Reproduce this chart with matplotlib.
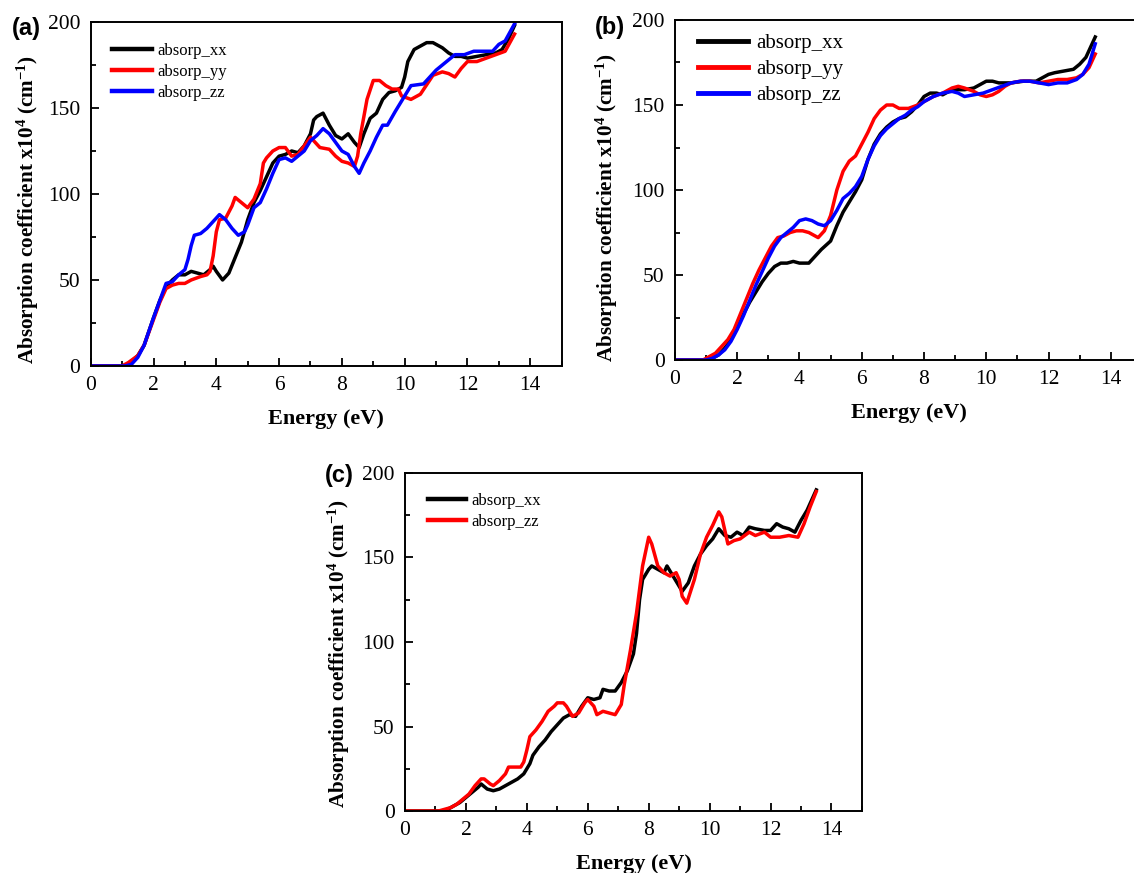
import matplotlib
matplotlib.use('Agg')
import matplotlib.pyplot as plt
from matplotlib.ticker import MultipleLocator

# ---- panel (a) ----
a_xx_e = [0, 1.0, 1.2, 1.5, 1.7, 2.0, 2.2, 2.4, 2.6, 2.8, 3.0, 3.2, 3.4, 3.6, 3.8, 3.9, 4.0, 4.2,
          4.4, 4.6, 4.8, 5.0, 5.2, 5.4, 5.6, 5.8, 6.0, 6.2, 6.4, 6.6, 6.8, 7.0, 7.1, 7.2, 7.4, 7.6,
          7.8, 8.0, 8.2, 8.4, 8.55, 8.7, 8.9, 9.1, 9.3, 9.5, 9.7, 9.9, 10.0, 10.1, 10.3, 10.5, 10.7,
          10.9, 11.2, 11.4, 11.6, 11.8, 12.0, 12.3, 12.6, 12.9, 13.1, 13.3, 13.5]
a_xx_v = [0, 0, 1, 6, 12, 28, 38, 46, 50, 53, 53, 55, 54, 53, 56, 58, 55, 50,
          54, 63, 72, 85, 95, 102, 110, 118, 122, 123, 125, 124, 128, 135, 143, 145, 147, 140,
          134, 132, 135, 130, 127, 135, 144, 147, 155, 159, 160, 162, 168, 177, 184, 186, 188,
          188, 185, 182, 180, 180, 179, 180, 181, 182, 184, 190, 198]

a_yy_e = [0, 1.0, 1.2, 1.5, 1.7, 2.0, 2.2, 2.4, 2.6, 2.8, 3.0, 3.2, 3.5, 3.7, 3.8, 3.9, 4.0, 4.1,
          4.3, 4.5, 4.6, 4.8, 5.0, 5.2, 5.4, 5.5, 5.6, 5.8, 6.0, 6.2, 6.4, 6.6, 6.8, 7.0, 7.1, 7.3,
          7.6, 7.8, 8.0, 8.2, 8.4, 8.5, 8.6, 8.8, 9.0, 9.2, 9.4, 9.6, 9.8, 9.9, 10.2, 10.5, 10.9,
          11.2, 11.4, 11.6, 11.8, 12.0, 12.3, 12.6, 12.9, 13.2, 13.5]
a_yy_v = [0, 0, 2, 6, 12, 27, 37, 45, 47, 48, 48, 50, 52, 53, 55, 64, 78, 85,
          86, 93, 98, 95, 92, 97, 106, 118, 121, 125, 127, 127, 122, 123, 128, 133, 131, 127,
          126, 122, 119, 118, 116, 122, 135, 155, 166, 166, 163, 161, 161, 157, 155, 158, 169,
          171, 170, 168, 173, 177, 177, 179, 181, 183, 193]

a_zz_e = [0, 1.1, 1.3, 1.5, 1.7, 2.0, 2.2, 2.4, 2.6, 2.8, 3.0, 3.1, 3.2, 3.3, 3.5, 3.7, 3.9, 4.1,
          4.3, 4.5, 4.7, 4.9, 5.0, 5.2, 5.4, 5.6, 5.8, 6.0, 6.2, 6.4, 6.6, 6.8, 7.0, 7.2, 7.4, 7.6,
          7.8, 8.0, 8.2, 8.4, 8.55, 8.7, 8.9, 9.1, 9.3, 9.45, 9.7, 9.9, 10.2, 10.6, 10.8, 11.0,
          11.2, 11.6, 11.9, 12.2, 12.5, 12.8, 13.0, 13.2, 13.5]
a_zz_v = [0, 0, 1, 5, 12, 28, 38, 48, 49, 53, 56, 62, 70, 76, 77, 80, 84, 88,
          85, 80, 76, 78, 82, 92, 95, 103, 112, 120, 121, 119, 122, 125, 131, 134, 138, 135,
          130, 125, 123, 116, 112, 118, 125, 133, 140, 140, 148, 154, 163, 164, 168, 172,
          175, 181, 181, 183, 183, 183, 187, 189, 199]

# ---- panel (b) ----
b_xx_e = [0, 1.0, 1.2, 1.4, 1.6, 1.8, 2.0, 2.2, 2.4, 2.6, 2.8, 3.0, 3.2, 3.4, 3.6, 3.8, 4.0, 4.3,
          4.5, 4.7, 5.0, 5.2, 5.4, 5.6, 5.8, 6.0, 6.2, 6.4, 6.6, 6.8, 7.0, 7.2, 7.4, 7.6, 7.8, 8.0,
          8.2, 8.4, 8.6, 8.8, 9.0, 9.3, 9.6, 9.8, 10.0, 10.2, 10.4, 10.8, 11.2, 11.6, 11.8, 12.0,
          12.2, 12.5, 12.8, 13.0, 13.2, 13.4, 13.5]
b_xx_v = [0, 0, 1, 3, 7, 12, 20, 27, 34, 40, 46, 51, 55, 57, 57, 58, 57, 57,
          61, 65, 70, 79, 87, 93, 99, 106, 118, 127, 133, 137, 140, 142, 143, 146, 150, 155,
          157, 157, 156, 158, 159, 159, 160, 162, 164, 164, 163, 163, 164, 164, 166, 168,
          169, 170, 171, 174, 178, 186, 190]

b_yy_e = [0, 0.9, 1.1, 1.3, 1.5, 1.7, 1.9, 2.1, 2.3, 2.5, 2.7, 2.9, 3.1, 3.3, 3.5, 3.7, 3.9, 4.1,
          4.3, 4.6, 4.8, 5.0, 5.2, 5.4, 5.6, 5.8, 6.0, 6.2, 6.4, 6.6, 6.8, 7.0, 7.2, 7.5, 7.8, 8.0,
          8.3, 8.6, 8.9, 9.1, 9.3, 9.6, 9.8, 10.0, 10.2, 10.4, 10.6, 10.8, 11.1, 11.4, 11.7, 12.0,
          12.3, 12.6, 12.9, 13.1, 13.3, 13.5]
b_yy_v = [0, 0, 2, 4, 8, 12, 18, 27, 36, 45, 53, 60, 67, 72, 73, 75, 76, 76,
          75, 72, 76, 85, 100, 111, 117, 120, 127, 134, 142, 147, 150, 150, 148, 148, 150, 152,
          155, 157, 160, 161, 160, 158, 156, 155, 156, 158, 161, 163, 164, 164, 163, 164,
          165, 165, 166, 168, 172, 180]

b_zz_e = [0, 1.0, 1.2, 1.4, 1.6, 1.8, 2.0, 2.2, 2.4, 2.6, 2.8, 3.0, 3.2, 3.4, 3.6, 3.8, 4.0, 4.2,
          4.4, 4.6, 4.8, 5.0, 5.2, 5.4, 5.6, 5.8, 6.0, 6.2, 6.4, 6.6, 6.8, 7.0, 7.2, 7.4, 7.6, 7.8,
          8.0, 8.3, 8.6, 8.9, 9.1, 9.3, 9.6, 9.9, 10.2, 10.5, 10.8, 11.1, 11.4, 11.7, 12.0, 12.3,
          12.6, 12.9, 13.1, 13.3, 13.5]
b_zz_v = [0, 0, 1, 3, 6, 11, 18, 26, 35, 44, 52, 60, 67, 72, 75, 78, 82, 83,
          82, 80, 79, 82, 88, 95, 98, 102, 108, 118, 126, 132, 136, 139, 142, 144, 147, 149,
          152, 155, 157, 158, 157, 155, 156, 157, 159, 161, 163, 164, 164, 163, 162, 163,
          163, 165, 168, 174, 186]

# ---- panel (c) ----
c_xx_e = [0, 1.2, 1.4, 1.6, 1.8, 2.0, 2.2, 2.4, 2.5, 2.7, 2.9, 3.1, 3.3, 3.5, 3.7, 3.9, 4.1, 4.2,
          4.4, 4.6, 4.8, 5.0, 5.2, 5.4, 5.6, 5.8, 6.0, 6.2, 6.4, 6.5, 6.7, 6.9, 7.1, 7.3, 7.5, 7.6,
          7.7, 7.8, 8.0, 8.1, 8.3, 8.5, 8.6, 8.8, 9.0, 9.1, 9.3, 9.5, 9.7, 9.9, 10.1, 10.3, 10.5,
          10.7, 10.9, 11.1, 11.3, 11.5, 11.8, 12.0, 12.2, 12.4, 12.6, 12.8, 13.0, 13.2, 13.5]
c_xx_v = [0, 0, 1, 3, 5, 8, 11, 14, 16, 13, 12, 13, 15, 17, 19, 22, 28, 33,
          38, 42, 47, 51, 55, 57, 56, 62, 67, 66, 67, 72, 71, 71, 76, 83, 93, 105,
          125, 137, 143, 145, 143, 141, 145, 139, 133, 130, 135, 145, 152, 157, 161, 167, 163,
          162, 165, 163, 168, 167, 166, 166, 170, 168, 167, 165, 172, 178, 190]

c_zz_e = [0, 1.1, 1.3, 1.5, 1.7, 1.9, 2.1, 2.3, 2.5, 2.6, 2.8, 2.9, 3.1, 3.3, 3.4, 3.6, 3.8, 3.9,
          4.0, 4.1, 4.3, 4.5, 4.7, 4.9, 5.0, 5.2, 5.3, 5.5, 5.7, 5.9, 6.0, 6.2, 6.3, 6.5, 6.7, 6.9,
          7.1, 7.2, 7.4, 7.6, 7.8, 8.0, 8.1, 8.3, 8.5, 8.7, 8.9, 9.0, 9.1, 9.25, 9.5, 9.7, 9.9,
          10.1, 10.3, 10.4, 10.6, 10.8, 11.0, 11.3, 11.5, 11.8, 12.0, 12.3, 12.6, 12.9, 13.1, 13.3,
          13.5]
c_zz_v = [0, 0, 1, 2, 4, 7, 10, 15, 19, 19, 16, 15, 18, 22, 26, 26, 26, 29,
          36, 44, 48, 53, 59, 62, 64, 64, 62, 56, 58, 64, 66, 62, 57, 59, 58, 57,
          63, 75, 95, 117, 145, 162, 158, 145, 141, 139, 141, 137, 127, 123, 137, 152, 162,
          169, 177, 174, 158, 160, 161, 165, 163, 165, 162, 162, 163, 162, 170, 180,
          189]

plt.rcParams['font.family'] = ['Liberation Serif', 'DejaVu Serif']
plt.rcParams['mathtext.fontset'] = 'custom'
plt.rcParams['mathtext.rm'] = 'Liberation Serif:bold'
plt.rcParams['mathtext.bf'] = 'Liberation Serif:bold'
plt.rcParams['mathtext.default'] = 'bf'

YLABEL = r'Absorption coefficient x10$^4$ (cm$^{-1}$)'


def style_axes(ax, ylab_x, ylab_y):
    ax.set_xlim(0, 15)
    ax.set_ylim(0, 200)
    ax.xaxis.set_major_locator(MultipleLocator(2))
    ax.xaxis.set_minor_locator(MultipleLocator(1))
    ax.yaxis.set_major_locator(MultipleLocator(50))
    ax.yaxis.set_minor_locator(MultipleLocator(25))
    ax.tick_params(which='both', direction='in', top=False, right=False,
                   labelsize=15.5, width=1.3, pad=7.5)
    ax.tick_params(which='major', length=6)
    ax.tick_params(which='minor', length=3.5)
    for s in ax.spines.values():
        s.set_linewidth(1.4)
    ax.set_xlabel('Energy (eV)', fontsize=16, fontweight='bold', labelpad=9.5)
    ax.set_ylabel(YLABEL, fontsize=15.2, fontweight='bold')
    ax.yaxis.set_label_coords(ylab_x, ylab_y)


fig = plt.figure(figsize=(11.34, 8.73), dpi=100)

# (a)
ax = fig.add_axes([0.0800, 0.5808, 0.4153, 0.3940])
ax.plot(a_xx_e, a_xx_v, color='black', lw=2.5, label='absorp_xx')
ax.plot(a_yy_e, a_yy_v, color='red', lw=2.5, label='absorp_yy')
ax.plot(a_zz_e, a_zz_v, color='blue', lw=2.5, label='absorp_zz')
style_axes(ax, -0.106, 0.456)
leg = ax.legend(loc='upper left', bbox_to_anchor=(0.045, 0.94), frameon=False,
                fontsize=12, handlelength=2.4, handletextpad=0.3, labelspacing=0.3,
                borderpad=0, borderaxespad=0)
for l in leg.get_lines():
    l.set_linewidth(3.2)
fig.text(0.0106, 0.9668, '(a)', family='Liberation Sans', fontweight='bold',
         fontsize=17, ha='left', va='center')

# (b)
ax = fig.add_axes([0.5952, 0.5876, 0.4118, 0.3895])
ax.plot(b_xx_e, b_xx_v, color='black', lw=2.5, label='absorp_xx')
ax.plot(b_yy_e, b_yy_v, color='red', lw=2.5, label='absorp_yy')
ax.plot(b_zz_e, b_zz_v, color='blue', lw=2.5, label='absorp_zz')
style_axes(ax, -0.117, 0.45)
leg = ax.legend(loc='upper left', bbox_to_anchor=(0.05, 0.96), frameon=False,
                fontsize=15, handlelength=2.4, handletextpad=0.4, labelspacing=0.3,
                borderpad=0, borderaxespad=0)
for l in leg.get_lines():
    l.set_linewidth(3.5)
fig.text(0.5247, 0.968, '(b)', family='Liberation Sans', fontweight='bold',
         fontsize=17, ha='left', va='center')

# (c)
ax = fig.add_axes([0.3571, 0.0710, 0.4030, 0.3872])
ax.plot(c_xx_e, c_xx_v, color='black', lw=2.5, label='absorp_xx')
ax.plot(c_zz_e, c_zz_v, color='red', lw=2.5, label='absorp_zz')
style_axes(ax, -0.116, 0.465)
leg = ax.legend(loc='upper left', bbox_to_anchor=(0.05, 0.94), frameon=False,
                fontsize=12, handlelength=2.3, handletextpad=0.3, labelspacing=0.3,
                borderpad=0, borderaxespad=0)
for l in leg.get_lines():
    l.set_linewidth(3.2)
fig.text(0.2866, 0.4548, '(c)', family='Liberation Sans', fontweight='bold',
         fontsize=17, ha='left', va='center')

fig.savefig('out.png', dpi=100)
